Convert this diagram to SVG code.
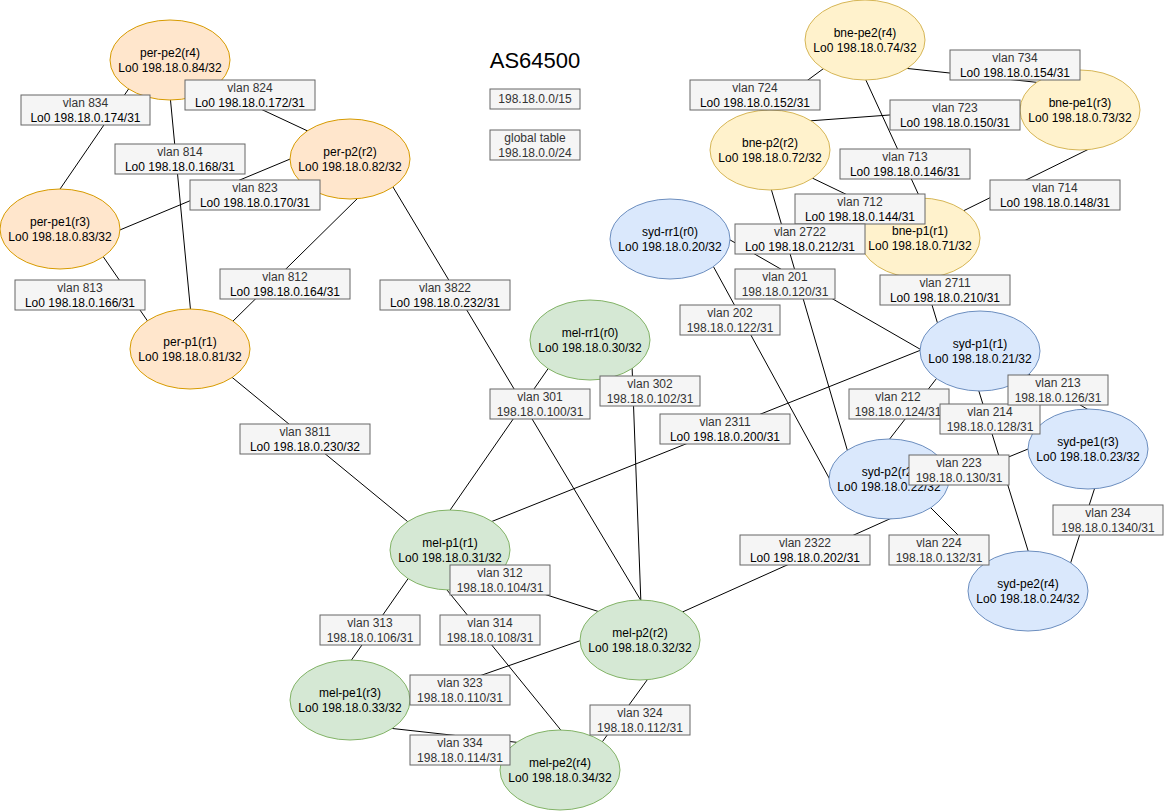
<svg xmlns="http://www.w3.org/2000/svg" width="1166" height="811" viewBox="0 0 1166 811">
<style>
text{font-family:"Liberation Sans",Arial,Helvetica,sans-serif;font-size:12px;text-anchor:middle}
.title{font-size:22px;fill:#000}
.c line{stroke:#000;stroke-width:1}
.node ellipse{stroke-width:1}
.per ellipse{fill:#ffe6cc;stroke:#d79b00}
.bne ellipse{fill:#fff2cc;stroke:#d6b656}
.syd ellipse{fill:#dae8fc;stroke:#6c8ebf}
.mel ellipse{fill:#d5e8d4;stroke:#82b366}
.node text{fill:#000}
.lbl rect{fill:#f5f5f5;stroke:#666666;stroke-width:1}
.lbl text{fill:#333333}
.lbl text.lo{fill:#000}
</style>
<rect x="0" y="0" width="1166" height="811" fill="#ffffff"/>
<text class="title" x="535" y="68">AS64500</text>
<g id="connectors" class="c">
<line x1="132" y1="84" x2="58" y2="192"/>
<line x1="205" y1="83" x2="312" y2="133"/>
<line x1="170" y1="95" x2="191" y2="315"/>
<line x1="295" y1="157" x2="115" y2="232"/>
<line x1="362" y1="194" x2="228" y2="326"/>
<line x1="100" y1="252" x2="151" y2="326"/>
<line x1="228" y1="374" x2="413" y2="526"/>
<line x1="390" y1="182" x2="643" y2="604"/>
<line x1="552" y1="363" x2="446" y2="516"/>
<line x1="632" y1="365" x2="641" y2="605"/>
<line x1="488" y1="523" x2="926" y2="348"/>
<line x1="500" y1="580" x2="603" y2="613"/>
<line x1="412" y1="573" x2="348" y2="665"/>
<line x1="447" y1="590" x2="564" y2="734"/>
<line x1="585" y1="639" x2="405" y2="702"/>
<line x1="650" y1="676" x2="600" y2="745"/>
<line x1="388" y1="728" x2="523" y2="743"/>
<line x1="678" y1="614" x2="894" y2="517"/>
<line x1="927" y1="504" x2="997" y2="574"/>
<line x1="940" y1="374" x2="885" y2="445"/>
<line x1="1025" y1="372" x2="1092" y2="412"/>
<line x1="977" y1="385" x2="1030" y2="557"/>
<line x1="940" y1="485" x2="1033" y2="447"/>
<line x1="1096" y1="484" x2="1069" y2="568"/>
<line x1="922" y1="272" x2="939" y2="328"/>
<line x1="770" y1="185" x2="849" y2="456"/>
<line x1="725" y1="237" x2="925" y2="352"/>
<line x1="712" y1="264" x2="834" y2="487"/>
<line x1="827" y1="66" x2="763" y2="113"/>
<line x1="903" y1="68" x2="1043" y2="83"/>
<line x1="808" y1="121" x2="1025" y2="105"/>
<line x1="864" y1="76" x2="921" y2="200"/>
<line x1="1091" y1="148" x2="959" y2="213"/>
<line x1="808" y1="176" x2="885" y2="213"/>
</g>
<g id="per-pe2" class="node per"><ellipse cx="170" cy="60" rx="60" ry="40"/><text x="170" y="57">per-pe2(r4)</text><text x="170" y="72">Lo0 198.18.0.84/32</text></g>
<g id="per-p2" class="node per"><ellipse cx="350" cy="159" rx="60" ry="40"/><text x="350" y="156">per-p2(r2)</text><text x="350" y="171">Lo0 198.18.0.82/32</text></g>
<g id="per-pe1" class="node per"><ellipse cx="60" cy="229" rx="60" ry="40"/><text x="60" y="226">per-pe1(r3)</text><text x="60" y="241">Lo0 198.18.0.83/32</text></g>
<g id="per-p1" class="node per"><ellipse cx="190" cy="349" rx="60" ry="40"/><text x="190" y="346">per-p1(r1)</text><text x="190" y="361">Lo0 198.18.0.81/32</text></g>
<g id="mel-rr1" class="node mel"><ellipse cx="590" cy="340" rx="60" ry="40"/><text x="590" y="337">mel-rr1(r0)</text><text x="590" y="352">Lo0 198.18.0.30/32</text></g>
<g id="mel-p1" class="node mel"><ellipse cx="450" cy="550" rx="60" ry="40"/><text x="450" y="547">mel-p1(r1)</text><text x="450" y="562">Lo0 198.18.0.31/32</text></g>
<g id="mel-p2" class="node mel"><ellipse cx="640" cy="640" rx="60" ry="40"/><text x="640" y="637">mel-p2(r2)</text><text x="640" y="652">Lo0 198.18.0.32/32</text></g>
<g id="mel-pe1" class="node mel"><ellipse cx="350" cy="700" rx="60" ry="40"/><text x="350" y="697">mel-pe1(r3)</text><text x="350" y="712">Lo0 198.18.0.33/32</text></g>
<g id="mel-pe2" class="node mel"><ellipse cx="560" cy="770" rx="60" ry="40"/><text x="560" y="767">mel-pe2(r4)</text><text x="560" y="782">Lo0 198.18.0.34/32</text></g>
<g id="bne-pe2" class="node bne"><ellipse cx="865" cy="40" rx="60" ry="40"/><text x="865" y="37">bne-pe2(r4)</text><text x="865" y="52">Lo0 198.18.0.74/32</text></g>
<g id="bne-pe1" class="node bne"><ellipse cx="1080" cy="110" rx="60" ry="40"/><text x="1080" y="107">bne-pe1(r3)</text><text x="1080" y="122">Lo0 198.18.0.73/32</text></g>
<g id="bne-p2" class="node bne"><ellipse cx="770" cy="150" rx="60" ry="40"/><text x="770" y="147">bne-p2(r2)</text><text x="770" y="162">Lo0 198.18.0.72/32</text></g>
<g id="bne-p1" class="node bne"><ellipse cx="920" cy="238" rx="60" ry="40"/><text x="920" y="235">bne-p1(r1)</text><text x="920" y="250">Lo0 198.18.0.71/32</text></g>
<g id="syd-rr1" class="node syd"><ellipse cx="670" cy="239" rx="60" ry="40"/><text x="670" y="236">syd-rr1(r0)</text><text x="670" y="251">Lo0 198.18.0.20/32</text></g>
<g id="syd-p1" class="node syd"><ellipse cx="980" cy="351" rx="60" ry="40"/><text x="980" y="348">syd-p1(r1)</text><text x="980" y="363">Lo0 198.18.0.21/32</text></g>
<g id="syd-p2" class="node syd"><ellipse cx="889" cy="479" rx="60" ry="40"/><text x="889" y="476">syd-p2(r2)</text><text x="889" y="491">Lo0 198.18.0.22/32</text></g>
<g id="syd-pe1" class="node syd"><ellipse cx="1088" cy="449" rx="60" ry="40"/><text x="1088" y="446">syd-pe1(r3)</text><text x="1088" y="461">Lo0 198.18.0.23/32</text></g>
<g id="syd-pe2" class="node syd"><ellipse cx="1028" cy="591" rx="60" ry="40"/><text x="1028" y="588">syd-pe2(r4)</text><text x="1028" y="603">Lo0 198.18.0.24/32</text></g>
<g id="info-prefix" class="lbl"><rect x="490" y="89" width="90" height="20"/><text x="535" y="103">198.18.0.0/15</text></g>
<g id="info-global" class="lbl"><rect x="490" y="130" width="90" height="30"/><text x="535" y="141.5">global table</text><text x="535" y="157">198.18.0.0/24</text></g>
<g id="labels">
<g id="l834" class="lbl"><rect x="21" y="95" width="129" height="30"/><text x="85.5" y="106.5">vlan 834</text><text class="lo" x="85.5" y="122">Lo0 198.18.0.174/31</text></g>
<g id="l824" class="lbl"><rect x="185" y="80" width="130" height="30"/><text x="250" y="91.5">vlan 824</text><text class="lo" x="250" y="107">Lo0 198.18.0.172/31</text></g>
<g id="l814" class="lbl"><rect x="115" y="144" width="130" height="30"/><text x="180" y="155.5">vlan 814</text><text class="lo" x="180" y="171">Lo0 198.18.0.168/31</text></g>
<g id="l823" class="lbl"><rect x="190" y="180" width="130" height="30"/><text x="255" y="191.5">vlan 823</text><text class="lo" x="255" y="207">Lo0 198.18.0.170/31</text></g>
<g id="l813" class="lbl"><rect x="15" y="280" width="130" height="30"/><text x="80" y="291.5">vlan 813</text><text class="lo" x="80" y="307">Lo0 198.18.0.166/31</text></g>
<g id="l812" class="lbl"><rect x="220" y="269" width="130" height="30"/><text x="285" y="280.5">vlan 812</text><text class="lo" x="285" y="296">Lo0 198.18.0.164/31</text></g>
<g id="l3811" class="lbl"><rect x="240" y="424" width="130" height="30"/><text x="305" y="435.5">vlan 3811</text><text class="lo" x="305" y="451">Lo0 198.18.0.230/32</text></g>
<g id="l3822" class="lbl"><rect x="380" y="280" width="130" height="30"/><text x="445" y="291.5">vlan 3822</text><text class="lo" x="445" y="307">Lo0 198.18.0.232/31</text></g>
<g id="l301" class="lbl"><rect x="490" y="389" width="100" height="30"/><text x="540" y="400.5">vlan 301</text><text x="540" y="416">198.18.0.100/31</text></g>
<g id="l302" class="lbl"><rect x="600" y="376" width="100" height="30"/><text x="650" y="387.5">vlan 302</text><text x="650" y="403">198.18.0.102/31</text></g>
<g id="l2311" class="lbl"><rect x="660" y="414" width="130" height="30"/><text x="725" y="425.5">vlan 2311</text><text class="lo" x="725" y="441">Lo0 198.18.0.200/31</text></g>
<g id="l312" class="lbl"><rect x="450" y="565" width="100" height="30"/><text x="500" y="576.5">vlan 312</text><text x="500" y="592">198.18.0.104/31</text></g>
<g id="l313" class="lbl"><rect x="320" y="615" width="100" height="30"/><text x="370" y="626.5">vlan 313</text><text x="370" y="642">198.18.0.106/31</text></g>
<g id="l314" class="lbl"><rect x="440" y="615" width="100" height="30"/><text x="490" y="626.5">vlan 314</text><text x="490" y="642">198.18.0.108/31</text></g>
<g id="l323" class="lbl"><rect x="410" y="675" width="100" height="30"/><text x="460" y="686.5">vlan 323</text><text x="460" y="702">198.18.0.110/31</text></g>
<g id="l324" class="lbl"><rect x="590" y="705" width="100" height="30"/><text x="640" y="716.5">vlan 324</text><text x="640" y="732">198.18.0.112/31</text></g>
<g id="l334" class="lbl"><rect x="410" y="735" width="100" height="30"/><text x="460" y="746.5">vlan 334</text><text x="460" y="762">198.18.0.114/31</text></g>
<g id="l2322" class="lbl"><rect x="740" y="535" width="130" height="30"/><text x="805" y="546.5">vlan 2322</text><text class="lo" x="805" y="562">Lo0 198.18.0.202/31</text></g>
<g id="l224" class="lbl"><rect x="889" y="535" width="100" height="30"/><text x="939" y="546.5">vlan 224</text><text x="939" y="562">198.18.0.132/31</text></g>
<g id="l212" class="lbl"><rect x="849" y="389" width="100" height="30"/><text x="898" y="400.5">vlan 212</text><text x="898" y="416">198.18.0.124/31</text></g>
<g id="l214" class="lbl"><rect x="940" y="404" width="100" height="30"/><text x="990" y="415.5">vlan 214</text><text x="990" y="431">198.18.0.128/31</text></g>
<g id="l213" class="lbl"><rect x="1008" y="375" width="100" height="30"/><text x="1058" y="386.5">vlan 213</text><text x="1058" y="402">198.18.0.126/31</text></g>
<g id="l223" class="lbl"><rect x="909" y="455" width="100" height="30"/><text x="959" y="466.5">vlan 223</text><text x="959" y="482">198.18.0.130/31</text></g>
<g id="l234" class="lbl"><rect x="1053" y="505" width="110" height="30"/><text x="1108" y="516.5">vlan 234</text><text x="1108" y="532">198.18.0.1340/31</text></g>
<g id="l2711" class="lbl"><rect x="880" y="275" width="130" height="30"/><text x="945" y="286.5">vlan 2711</text><text class="lo" x="945" y="302">Lo0 198.18.0.210/31</text></g>
<g id="l201" class="lbl"><rect x="735" y="269" width="100" height="30"/><text x="785" y="280.5">vlan 201</text><text x="785" y="296">198.18.0.120/31</text></g>
<g id="l202" class="lbl"><rect x="680" y="305" width="100" height="30"/><text x="730" y="316.5">vlan 202</text><text x="730" y="332">198.18.0.122/31</text></g>
<g id="l724" class="lbl"><rect x="690" y="80" width="130" height="30"/><text x="755" y="91.5">vlan 724</text><text class="lo" x="755" y="107">Lo0 198.18.0.152/31</text></g>
<g id="l734" class="lbl"><rect x="950" y="50" width="130" height="30"/><text x="1015" y="61.5">vlan 734</text><text class="lo" x="1015" y="77">Lo0 198.18.0.154/31</text></g>
<g id="l723" class="lbl"><rect x="890" y="100" width="130" height="30"/><text x="955" y="111.5">vlan 723</text><text class="lo" x="955" y="127">Lo0 198.18.0.150/31</text></g>
<g id="l713" class="lbl"><rect x="840" y="149" width="130" height="30"/><text x="905" y="160.5">vlan 713</text><text class="lo" x="905" y="176">Lo0 198.18.0.146/31</text></g>
<g id="l714" class="lbl"><rect x="990" y="180" width="130" height="30"/><text x="1055" y="191.5">vlan 714</text><text class="lo" x="1055" y="207">Lo0 198.18.0.148/31</text></g>
<g id="l712" class="lbl"><rect x="795" y="194" width="130" height="30"/><text x="860" y="205.5">vlan 712</text><text class="lo" x="860" y="221">Lo0 198.18.0.144/31</text></g>
<g id="l2722" class="lbl"><rect x="735" y="224" width="130" height="30"/><text x="800" y="235.5">vlan 2722</text><text class="lo" x="800" y="251">Lo0 198.18.0.212/31</text></g>
</g>
</svg>
